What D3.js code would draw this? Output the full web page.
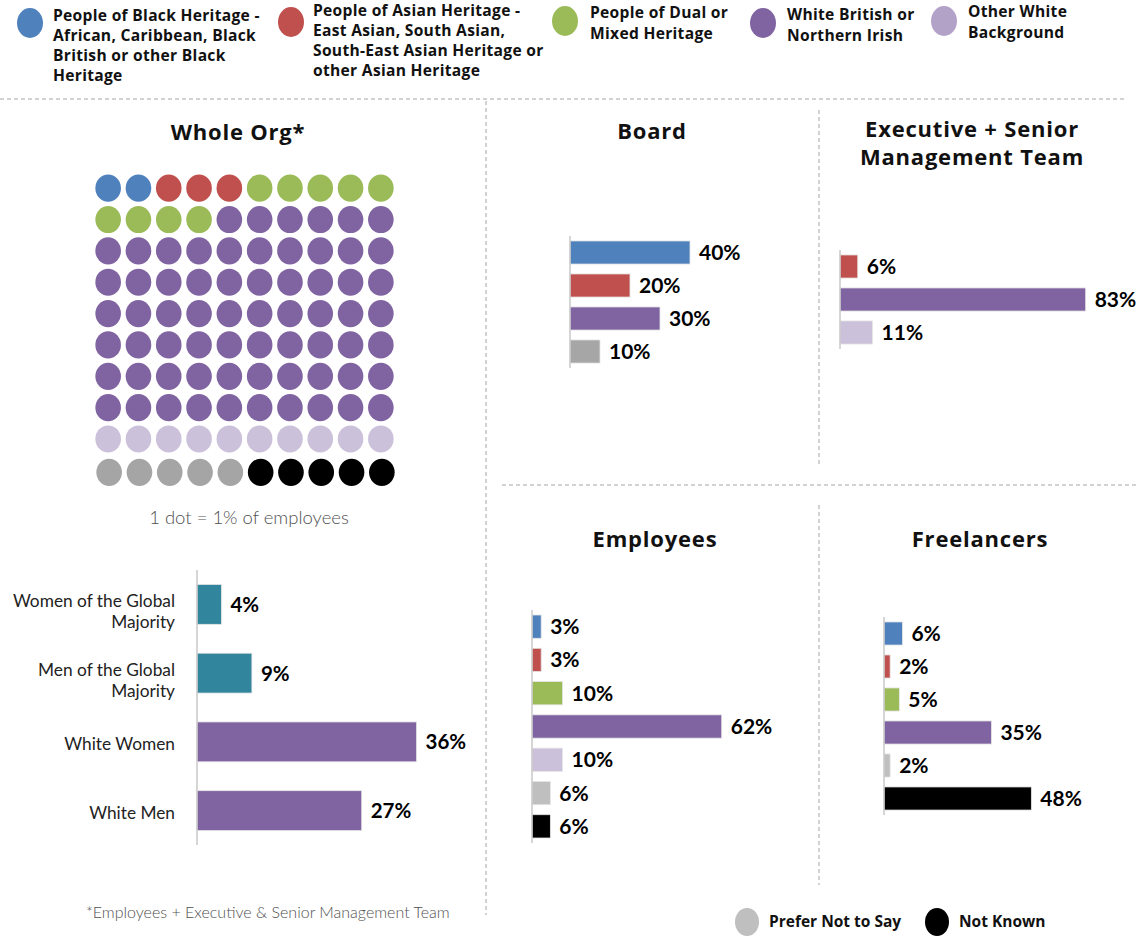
<!DOCTYPE html>
<html><head><meta charset="utf-8">
<script src="https://cdn.jsdelivr.net/npm/d3@7"></script>
<style>
body{margin:0;background:#fff;}
svg{display:block;}
</style></head><body>
<svg id="chart" width="1137" height="938"></svg>
<script>
// ---------- DATA ----------
const legendLabels = [
  ["People of Black Heritage -","African, Caribbean, Black","British or other Black","Heritage"],
  ["People of Asian Heritage -","East Asian, South Asian,","South-East Asian Heritage or","other Asian Heritage"],
  ["People of Dual or","Mixed Heritage"],
  ["White British or","Northern Irish"],
  ["Other White","Background"]
];
const legendColors = ["#4f81bd","#c0504d","#9bbb59","#8064a2","#b3a2c7"];
const bottomLegendLabels = ["Prefer Not to Say","Not Known"];
const bottomLegendColors = ["#bfbfbf","#000000"];

const waffleCategories = ["Black","Asian","Dual","WhiteBritish","OtherWhite","PreferNot","NotKnown"];
const waffleCounts = [2,3,9,66,10,5,5];
const waffleColors = ["#4f81bd","#c0504d","#9bbb59","#8064a2","#ccc1da","#a5a5a5","#000000"];

const genderLabels = [["Women of the Global","Majority"],["Men of the Global","Majority"],["White Women"],["White Men"]];
const genderValues = [4,9,36,27];
const genderColors = ["#31859c","#31859c","#8064a2","#8064a2"];

const boardCategories = ["Black","Asian","WhiteBritish","PreferNot"];
const boardValues = [40,20,30,10];
const boardColors = ["#4f81bd","#c0504d","#8064a2","#a6a6a6"];

const execCategories = ["Asian","WhiteBritish","OtherWhite"];
const execValues = [6,83,11];
const execColors = ["#c0504d","#8064a2","#ccc1da"];

const employeeCategories = ["Black","Asian","Dual","WhiteBritish","OtherWhite","PreferNot","NotKnown"];
const employeeValues = [3,3,10,62,10,6,6];
const employeeColors = ["#4f81bd","#c0504d","#9bbb59","#8064a2","#ccc1da","#bfbfbf","#000000"];

const freelancerCategories = ["Black","Asian","Dual","WhiteBritish","PreferNot","NotKnown"];
const freelancerValues = [6,2,5,35,2,48];
const freelancerColors = ["#4f81bd","#c0504d","#9bbb59","#8064a2","#bfbfbf","#000000"];

// ---------- DRAW ----------
const svg = d3.select("#chart");
const TITLE_FONT = "'Open Sans', sans-serif";
const LABEL_FONT = "Lato, sans-serif";

// dashed separators
const dash = svg.append("g").attr("stroke","#c4c4c4").attr("stroke-width",1.5).attr("stroke-dasharray","4,3").attr("fill","none");
dash.append("line").attr("x1",0).attr("x2",1124).attr("y1",99).attr("y2",99);
dash.append("line").attr("x1",486).attr("x2",486).attr("y1",101).attr("y2",915);
dash.append("line").attr("x1",502).attr("x2",1137).attr("y1",485).attr("y2",485);
dash.append("line").attr("x1",819).attr("x2",819).attr("y1",110).attr("y2",465);
dash.append("line").attr("x1",819).attr("x2",819).attr("y1",505).attr("y2",885);

// top legend: [circle cx, cy, text x, first baseline, line spacing]
const legendPos = [[30,23,53,21,20],[291,22,313,16,20],[565,21,590,18,21],[763,23,787,20,21],[944,21,968,17,21]];
legendLabels.forEach((lines,i)=>{
  const [cx,cy,tx,ty,ls] = legendPos[i];
  svg.append("ellipse").attr("cx",cx).attr("cy",cy).attr("rx",13).attr("ry",15).attr("fill",legendColors[i]);
  const t = svg.append("text").attr("x",tx).attr("y",ty).attr("font-family",TITLE_FONT).attr("font-weight",700).attr("font-size",15.6).attr("letter-spacing",0.3).attr("fill","#111");
  lines.forEach((l,j)=>t.append("tspan").attr("x",tx).attr("dy",j?ls:0).text(l));
});

// titles
function title(lines,cx,y){
  lines.forEach((l,j)=>svg.append("text").attr("x",cx).attr("y",y+j*28).attr("text-anchor","middle")
    .attr("font-family",TITLE_FONT).attr("font-weight",700).attr("font-size",22).attr("letter-spacing",0.8).attr("fill","#111").text(l));
}
title(["Whole Org*"],238,140);
title(["Board"],652,139);
title(["Executive + Senior","Management Team"],972,137);
title(["Employees"],655,547);
title(["Freelancers"],980,547);

// waffle
const cells = [];
waffleCounts.forEach((c,i)=>{ for(let k=0;k<c;k++) cells.push(i); });
const wx = d3.scaleBand().domain(d3.range(10)).range([93,396]);
const wy = d3.scaleBand().domain(d3.range(10)).range([172.5,486]);
svg.append("g").selectAll("ellipse").data(cells).join("ellipse")
  .attr("cx",(d,i)=>wx(i%10)+wx.bandwidth()/2 + (Math.floor(i/10)===9?1:0))
  .attr("cy",(d,i)=>wy(Math.floor(i/10))+wy.bandwidth()/2 + (Math.floor(i/10)===9?2:0))
  .attr("rx",12.8).attr("ry",13.6)
  .attr("fill",d=>waffleColors[d]);
svg.append("text").attr("x",249).attr("y",524).attr("text-anchor","middle").attr("font-family",LABEL_FONT).attr("font-weight",300).attr("font-size",18.5).attr("fill","#505050").text("1 dot = 1% of employees");

// bar panel helper
function barPanel(opts){
  const {values,colors,axisX,range,pxPerPct,paddingInner,paddingOuter,fontSize,labels} = opts;
  const y = d3.scaleBand().domain(d3.range(values.length)).range(range).paddingInner(paddingInner).paddingOuter(paddingOuter);
  const x = d3.scaleLinear().domain([0,100]).range([axisX, axisX + 100*pxPerPct]);
  const g = svg.append("g");
  g.selectAll("rect").data(values).join("rect")
    .attr("x",x(0)).attr("y",(d,i)=>y(i)).attr("width",d=>x(d)-x(0)).attr("height",y.bandwidth())
    .attr("fill",(d,i)=>colors[i]).attr("stroke","#e6e6e6").attr("stroke-width",0.8);
  g.append("line").attr("x1",axisX).attr("x2",axisX).attr("y1",range[0]).attr("y2",range[1]).attr("stroke","#c8c8c8").attr("stroke-width",1.5);
  g.selectAll("text.v").data(values).join("text").attr("class","v")
    .attr("x",d=>x(d)+9).attr("y",(d,i)=>y(i)+y.bandwidth()/2).attr("dy","0.36em")
    .attr("font-family",LABEL_FONT).attr("font-weight",700).attr("font-size",fontSize).attr("fill","#000")
    .text(d=>d+"%");
  if(labels){
    labels.forEach((lines,i)=>{
      const cy = y(i)+y.bandwidth()/2;
      const t = g.append("text").attr("text-anchor","end").attr("font-family",LABEL_FONT).attr("font-size",17.3).attr("fill","#222");
      const start = lines.length>1 ? cy-3 : cy+2.5;
      lines.forEach((l,j)=>t.append("tspan").attr("x",175).attr("y",start+j*21).attr("dy","0.35em").text(l));
    });
  }
}
barPanel({values:genderValues,colors:genderColors,axisX:197,range:[570,845],pxPerPct:6.1,paddingInner:0.42,paddingOuter:0.21,fontSize:20.5,labels:genderLabels});
barPanel({values:boardValues,colors:boardColors,axisX:570,range:[236,368],pxPerPct:3.0,paddingInner:0.3,paddingOuter:0.15,fontSize:21});
barPanel({values:execValues,colors:execColors,axisX:840,range:[250,349],pxPerPct:2.96,paddingInner:0.3,paddingOuter:0.15,fontSize:21});
barPanel({values:employeeValues,colors:employeeColors,axisX:532,range:[610,843],pxPerPct:3.06,paddingInner:0.3,paddingOuter:0.15,fontSize:21});
barPanel({values:freelancerValues,colors:freelancerColors,axisX:884,range:[617,815],pxPerPct:3.07,paddingInner:0.3,paddingOuter:0.15,fontSize:21});

// footnote
svg.append("text").attr("x",86).attr("y",918).attr("font-family",LABEL_FONT).attr("font-weight",300).attr("font-size",16).attr("fill","#505050").text("*Employees + Executive & Senior Management Team");

// bottom legend
const bl = [[747,922,769],[937,922,959]];
bottomLegendLabels.forEach((l,i)=>{
  svg.append("ellipse").attr("cx",bl[i][0]).attr("cy",bl[i][1]).attr("rx",12).attr("ry",14).attr("fill",bottomLegendColors[i]);
  svg.append("text").attr("x",bl[i][2]).attr("y",bl[i][1]+5).attr("font-family",TITLE_FONT).attr("font-weight",700).attr("font-size",15.5).attr("fill","#111").text(l);
});
</script>
</body></html>
